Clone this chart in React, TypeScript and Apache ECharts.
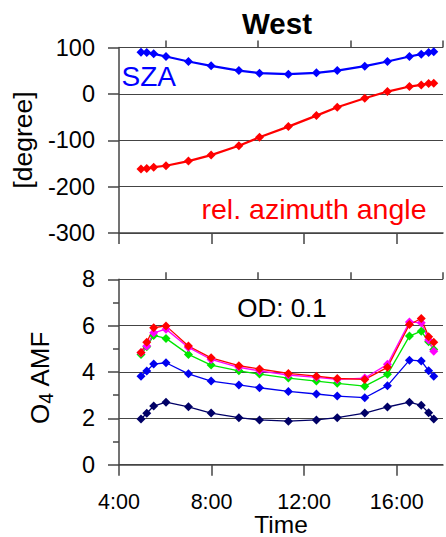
import React, { useEffect, useRef } from 'react';
import * as echarts from 'echarts';

// Time of day in decimal hours
const times = [4.95, 5.2, 5.5, 6.03, 7.0, 7.98, 9.18, 10.07, 11.32, 12.53, 13.43, 14.62, 15.6, 16.55, 17.06, 17.38, 17.6];

// Top panel [degree]
const sza = [90, 89, 86.4, 80.6, 69.8, 60.5, 50.3, 44.7, 42.5, 45.4, 50.3, 59.8, 69.8, 80.6, 85.7, 89, 90.7];
const relAzimuth = [-162, -161, -158, -155, -145, -132, -112, -93.5, -70.6, -46.9, -28.7, -9.3, 5, 15.8, 19.4, 22.2, 23.1];

// Bottom panel O4 AMF
const amfNavy = [1.97, 2.22, 2.53, 2.7, 2.5, 2.23, 2.03, 1.93, 1.88, 1.93, 2.03, 2.23, 2.49, 2.7, 2.56, 2.24, 1.97];
const amfBlue = [3.82, 4.04, 4.34, 4.4, 3.92, 3.61, 3.44, 3.32, 3.16, 3.05, 2.96, 2.89, 3.41, 4.51, 4.48, 4.05, 3.82];
const amfGreen = [4.76, 5.09, 5.58, 5.45, 4.76, 4.3, 4.05, 3.91, 3.74, 3.61, 3.51, 3.39, 3.9, 5.55, 5.76, 5.3, 4.97];
const amfMagenta = [4.83, 5.12, 5.69, 5.85, 5.06, 4.54, 4.2, 4.05, 3.87, 3.77, 3.68, 3.74, 4.33, 6.16, 6.12, 5.38, 4.9];
const amfRed = [4.84, 5.28, 5.91, 5.99, 5.12, 4.61, 4.27, 4.13, 3.94, 3.82, 3.72, 3.68, 4.2, 6.05, 6.31, 5.52, 5.28];

const majorHours = [4, 8, 12, 16];
const minorHours = [6, 10, 14, 18];

const FONT = 'Liberation Sans, Arial, sans-serif';

const pairs = (vals: number[]) => vals.map((v, i) => [times[i], v]);

export default function App() {
  const ref = useRef<HTMLDivElement>(null);

  useEffect(() => {
    if (!ref.current) return;
    const chart = echarts.init(ref.current, undefined, { renderer: 'svg' });
    const axisColor = '#444';

    const xMajor = (gridIndex: number, showLabels: boolean) => ({
      type: 'value',
      gridIndex,
      min: 4,
      max: 18,
      axisLine: { show: true, onZero: false, lineStyle: { color: axisColor, width: 1.5 } },
      axisTick: { show: true, length: 11, customValues: majorHours, lineStyle: { color: axisColor, width: 1.5 } },
      axisLabel: {
        show: showLabels,
        customValues: majorHours,
        formatter: (v: number) => `${v}:00`,
        fontSize: 21.5,
        fontFamily: FONT,
        color: '#000',
        margin: 26,
      },
      splitLine: { show: false },
    });
    const xMinor = (gridIndex: number) => ({
      type: 'value',
      gridIndex,
      min: 4,
      max: 18,
      axisLine: { show: false, onZero: false },
      axisTick: { show: true, length: 7, customValues: minorHours, lineStyle: { color: axisColor, width: 1.5 } },
      axisLabel: { show: false },
      splitLine: { show: false },
    });

    const lineSeries = (
      name: string,
      vals: number[],
      color: string,
      xAxisIndex: number,
      yAxisIndex: number,
      width: number,
    ) => ({
      type: 'line',
      name,
      data: pairs(vals),
      xAxisIndex,
      yAxisIndex,
      symbol: 'diamond',
      symbolSize: 9,
      showSymbol: true,
      lineStyle: { color, width },
      itemStyle: { color },
      z: 3,
    });

    chart.setOption({
      animation: false,
      backgroundColor: '#fff',
      grid: [
        { left: 119, top: 47.5, width: 324, height: 185.5 },
        { left: 119, top: 279.3, width: 324, height: 185.4 },
      ],
      xAxis: [xMajor(0, false), xMinor(0), xMajor(1, true), xMinor(1)],
      yAxis: [
        {
          type: 'value',
          gridIndex: 0,
          min: -300,
          max: 100,
          interval: 100,
          axisLine: { show: true, onZero: false, lineStyle: { color: axisColor, width: 1.5 } },
          axisTick: { show: true, length: 11, lineStyle: { color: axisColor, width: 1.5 } },
          axisLabel: { fontSize: 23.5, fontFamily: FONT, color: '#000', margin: 24 },
          splitLine: { show: true, lineStyle: { color: axisColor, width: 1.2 } },
        },
        {
          type: 'value',
          gridIndex: 1,
          min: 0,
          max: 8,
          interval: 2,
          axisLine: { show: true, onZero: false, lineStyle: { color: axisColor, width: 1.5 } },
          axisTick: { show: true, length: 11, lineStyle: { color: axisColor, width: 1.5 } },
          minorTick: { show: true, splitNumber: 2, length: 6, lineStyle: { color: axisColor, width: 1.5 } },
          axisLabel: { fontSize: 23.5, fontFamily: FONT, color: '#000', margin: 24 },
          splitLine: { show: true, lineStyle: { color: axisColor, width: 1.2 } },
        },
      ],
      series: [
        lineSeries('SZA', sza, '#0000ff', 0, 0, 2.2),
        lineSeries('rel. azimuth angle', relAzimuth, '#ff0000', 0, 0, 2.2),
        lineSeries('AMF navy', amfNavy, '#000066', 2, 1, 1.3),
        lineSeries('AMF blue', amfBlue, '#0000ee', 2, 1, 1.3),
        lineSeries('AMF green', amfGreen, '#00e600', 2, 1, 1.3),
        lineSeries('AMF magenta', amfMagenta, '#ff00ff', 2, 1, 1.3),
        lineSeries('AMF red', amfRed, '#ff0000', 2, 1, 1.3),
      ],
      graphic: [
        {
          type: 'text',
          x: 277,
          y: 23,
          style: { text: 'West', font: `bold 29.5px ${FONT}`, fill: '#000', textAlign: 'center', textVerticalAlign: 'middle' },
        },
        {
          type: 'text',
          x: 121.5,
          y: 76,
          style: { text: 'SZA', font: `28px ${FONT}`, fill: '#0000ff', textAlign: 'left', textVerticalAlign: 'middle' },
        },
        {
          type: 'text',
          x: 314,
          y: 209,
          style: { text: 'rel. azimuth angle', font: `28.5px ${FONT}`, fill: '#ff0000', textAlign: 'center', textVerticalAlign: 'middle' },
        },
        {
          type: 'text',
          x: 282,
          y: 308,
          style: { text: 'OD: 0.1', font: `26px ${FONT}`, fill: '#000', textAlign: 'center', textVerticalAlign: 'middle' },
        },
        {
          type: 'text',
          x: 22.5,
          y: 140,
          rotation: Math.PI / 2,
          style: { text: '[degree]', font: `26.5px ${FONT}`, fill: '#000', textAlign: 'center', textVerticalAlign: 'middle' },
        },
        {
          type: 'text',
          x: 40,
          y: 377.5,
          rotation: Math.PI / 2,
          style: {
            text: '{a|O}{b|4}{a| AMF}',
            textAlign: 'center',
            textVerticalAlign: 'middle',
            rich: {
              a: { fontSize: 26, fontFamily: FONT, fill: '#000', lineHeight: 32 },
              b: { fontSize: 19.5, fontFamily: FONT, fill: '#000', lineHeight: 24, verticalAlign: 'bottom' },
            },
          },
        },
        {
          type: 'text',
          x: 281,
          y: 524,
          style: { text: 'Time', font: `24.5px ${FONT}`, fill: '#000', textAlign: 'center', textVerticalAlign: 'middle' },
        },
      ],
    });

    return () => chart.dispose();
  }, []);

  return (
    <div
      ref={ref}
      style={{ position: 'absolute', left: 0, top: 0, width: 446, height: 537, background: '#fff' }}
    />
  );
}
